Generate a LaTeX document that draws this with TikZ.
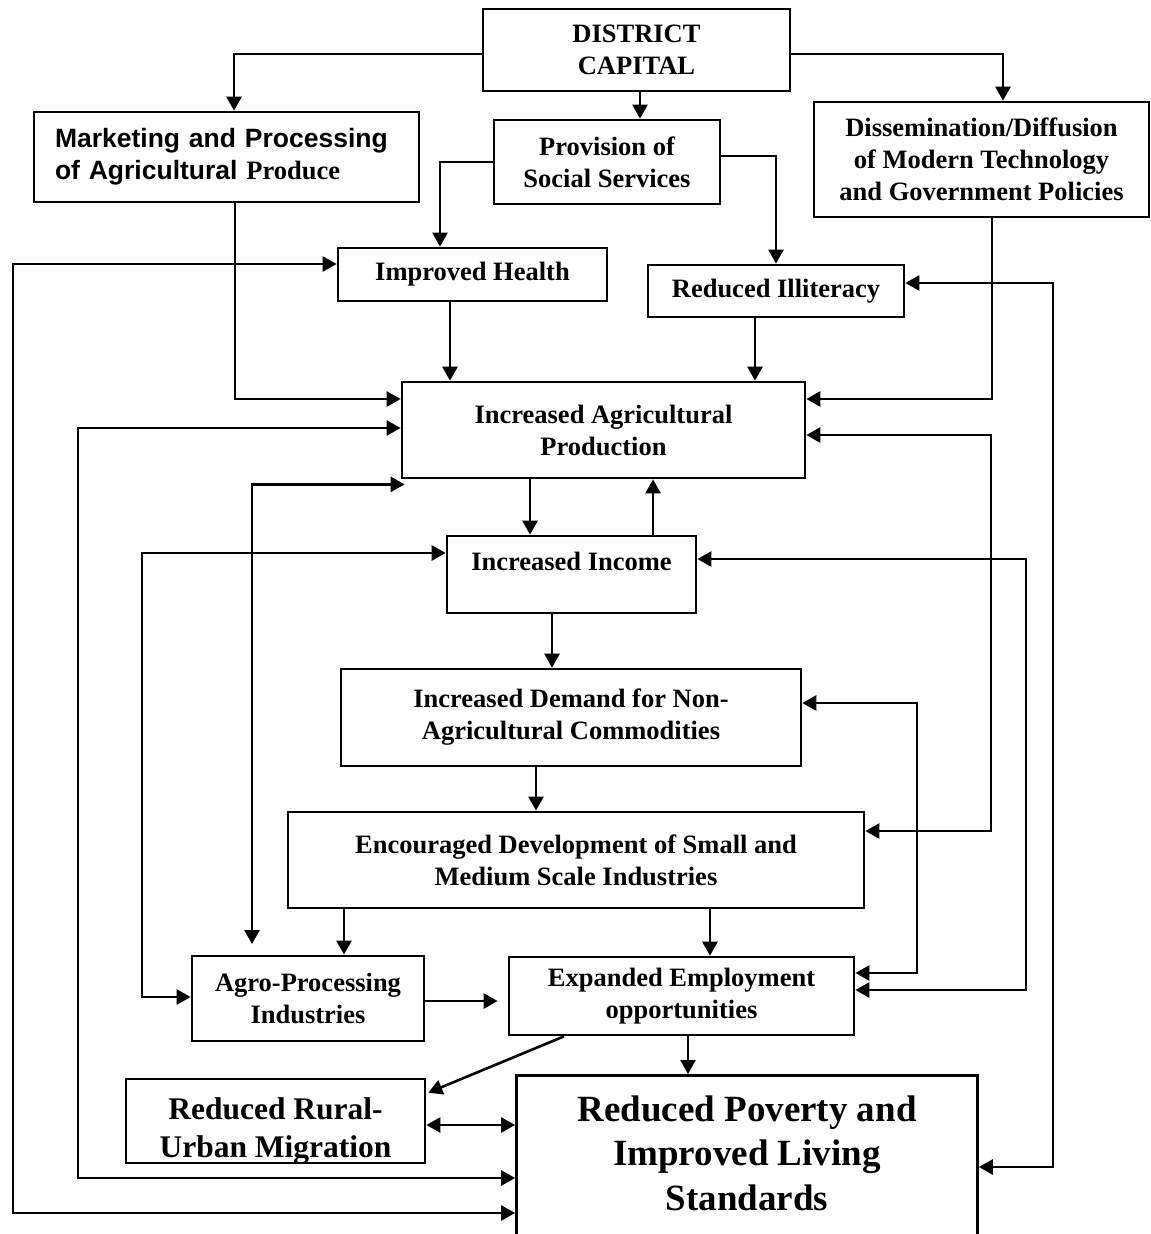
\documentclass[tikz,border=0pt]{standalone}
\usepackage{fontspec}
\setmainfont{Liberation Serif}
\newfontfamily\arialfont{Liberation Sans}
\usetikzlibrary{arrows.meta}

\begin{document}
\begin{tikzpicture}[x=1pt,y=-1pt]
\tikzstyle{every node}=[draw, line width=2.7pt, align=center, font=\fontsize{26.5}{32}\selectfont\bfseries]
\tikzstyle{arr}=[line width=2.6pt, -{Triangle[length=14pt,width=15pt]}]
\tikzstyle{both}=[line width=2.6pt, {Triangle[length=14pt,width=15pt]}-{Triangle[length=14pt,width=15pt]}]

\useasboundingbox (0,0) rectangle (1151,1234);
\clip (0,0) rectangle (1151,1234);

\node[minimum width=307pt, minimum height=82pt] (dc) at (636.5,50) {DISTRICT\\CAPITAL};
\node[minimum height=90pt, text width=343pt, inner xsep=21pt, align=left] (mkt) at (226.5,157)
  {{\arialfont Marketing and Processing}\\{\arialfont of Agricultural} Produce};
\node[minimum width=226pt, minimum height=84pt] (prov) at (607,162) {Provision of\\Social Services};
\node[minimum width=335pt, minimum height=115pt] (diss) at (981.5,159.5) {Dissemination/Diffusion\\of Modern Technology\\and Government Policies};
\node[minimum width=269pt, minimum height=53pt] (ih) at (472.5,274.5) {Improved Health};
\node[minimum width=256pt, minimum height=52pt] (ri) at (776,291) {Reduced Illiteracy};
\node[minimum width=403pt, minimum height=96pt] (iap) at (603.5,430) {Increased Agricultural\\Production};
\node[minimum width=249pt, inner ysep=0pt, text height=34pt, text depth=43pt] (ii) at (571.5,574.5) {Increased Income};
\node[minimum width=460pt, minimum height=97pt] (idn) at (571,717.5) {Increased Demand for Non-\\Agricultural Commodities};
\node[minimum width=576pt, minimum height=96pt] (eds) at (576,860) {Encouraged Development of Small and\\Medium Scale Industries};
\node[minimum width=232pt, minimum height=85pt] (agro) at (308,998.5) {Agro-Processing\\Industries};
\node[minimum width=345pt, minimum height=78pt] (eeo) at (681.5,996) {Expanded Employment\\opportunities};
\node[minimum width=299pt, inner ysep=0pt, text height=78pt, text depth=6pt,
  font=\fontsize{31.5}{38}\selectfont\bfseries] (rru) at (275.5,1121) {Reduced Rural-\\Urban Migration};
\node[anchor=north, minimum width=461pt, inner ysep=0pt, text height=135pt, text depth=200pt,
  font=\fontsize{37}{44.5}\selectfont\bfseries] (rp) at (747,1074) {Reduced Poverty and\\Improved Living\\Standards};

% straight arrows down
\foreach \x/\from/\to in {640/dc/prov, 450/ih/iap, 755/ri/iap, 530/iap/ii, 552/ii/idn, 536/idn/eds, 344/eds/agro, 710/eds/eeo, 688/eeo/rp}
\draw [arr] (\x,0 |- \from.south) -- (\x,0 |- \to.north);
\draw [arr] (653,0 |- ii.north) -- (653,0 |- iap.south);

% elbows
\draw [arr] ([yshift=-4pt]dc.west) -| (234,0 |- mkt.north);
\draw [arr] ([yshift=-4pt]dc.east) -| (1003,0 |- diss.north);
\draw [arr] (prov.west) -| (440,0 |- ih.north);
\draw [arr] ([yshift=6pt]prov.east) -| (ri.north);
\draw [arr] (235,0 |- mkt.south) |- (iap.west |- 0,399);
\draw [arr] (992,0 |- diss.south) |- (iap.east |- 0,399);
\draw [arr, shorten >=10pt] (agro.east |- 0,1001) -- (eeo.west |- 0,1001);
\draw [arr] (564,0 |- eeo.south) -- ([xshift=2pt,yshift=-15pt]rru.north east);

% feedback loops
\draw [both] (ih.west |- 0,264) -| (13,1213) -- (rp.west |- 0,1213);
\draw [both] (iap.west |- 0,428) -| (78,1178) -- (rp.west |- 0,1178);
\draw [both] ([xshift=4pt,yshift=-5pt]iap.south west) -| (252,944);
\draw [both] (ii.west |- 0,553) -| (142,997) -- (agro.west |- 0,997);
\draw [both] (idn.east |- 0,703) -| (917,973) -- (eeo.east |- 0,973);
\draw [both] (iap.east |- 0,435) -| (991,831) -- (eds.east |- 0,831);
\draw [both] (ii.east |- 0,559) -| (1026,990) -- (eeo.east |- 0,990);
\draw [both] (ri.east |- 0,283) -| (1053,1167) -- (rp.east |- 0,1167);
\draw [both] (rru.east |- 0,1125) -- (rp.west |- 0,1125);

\end{tikzpicture}
\end{document}
